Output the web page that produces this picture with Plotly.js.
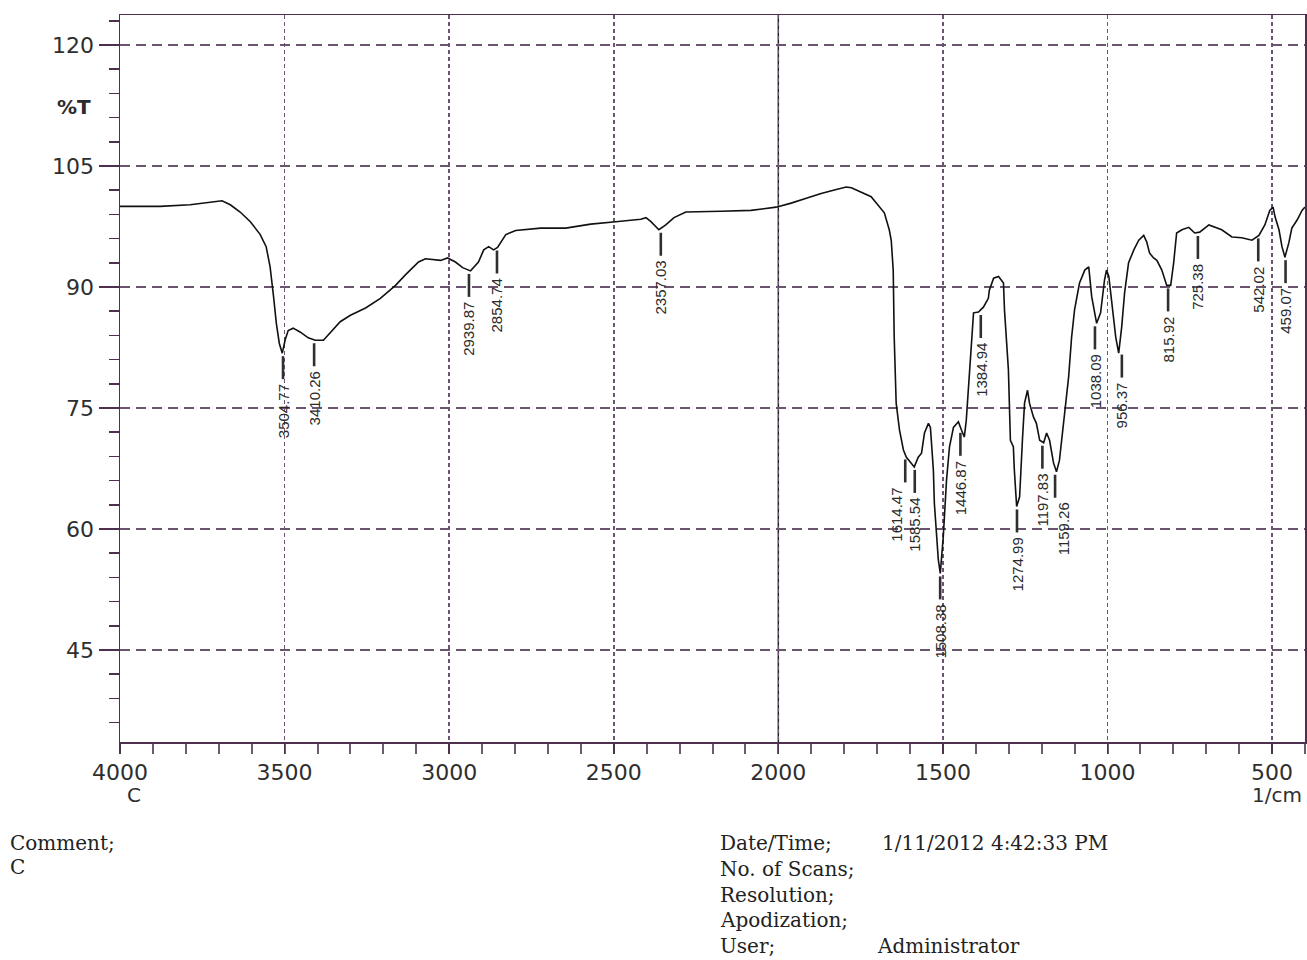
<!DOCTYPE html>
<html>
<head>
<meta charset="utf-8">
<script src="https://cdn.plot.ly/plotly-3.0.1.min.js"></script>
<style>
  html, body { margin: 0; padding: 0; background: #ffffff; }
  #chart { width: 1307px; height: 960px; }
</style>
</head>
<body>
<div id="chart"></div>
<script>
// ---- Data ----
const wavenumber = [4000,3878,3787,3726,3690,3665,3635,3604,3574,3556,3544,3534,3525,3516,3507,3498,3489,3474,3452,3428,3407,3382,3361,3331,3300,3254,3209,3163,3133,3093,3072,3026,3005,2981,2959,2935,2911,2895,2880,2865,2853,2828,2798,2722,2646,2570,2494,2418,2402,2387,2363,2342,2317,2281,2174,2083,2007,1961,1915,1870,1824,1794,1778,1718,1678,1663,1657,1651,1648,1642,1632,1620,1611,1596,1587,1575,1565,1556,1544,1538,1529,1526,1520,1514,1508,1499,1489,1480,1468,1453,1444,1435,1429,1422,1413,1407,1392,1377,1362,1359,1346,1331,1316,1313,1301,1295,1286,1283,1276,1267,1258,1252,1243,1237,1225,1216,1206,1194,1185,1176,1164,1155,1146,1136,1130,1118,1109,1100,1085,1069,1057,1048,1033,1021,1009,1003,996,987,975,966,957,948,936,920,905,890,881,872,860,850,835,820,808,799,790,774,753,735,720,692,674,653,622,592,561,540,522,507,497,491,479,470,461,449,440,424,409,400];
const transmittance = [100.0,100.0,100.2,100.5,100.7,100.2,99.3,98.1,96.5,95.0,92.5,89.0,85.5,83.0,81.8,83.5,84.6,84.9,84.4,83.7,83.4,83.4,84.3,85.7,86.5,87.4,88.6,90.2,91.5,93.1,93.5,93.3,93.6,93.1,92.4,92.0,93.1,94.6,95.0,94.6,94.9,96.5,97.0,97.3,97.3,97.8,98.1,98.4,98.6,98.1,97.1,97.7,98.6,99.3,99.4,99.5,99.9,100.4,101.0,101.6,102.1,102.4,102.3,101.2,99.2,97.1,95.8,92.1,83.8,75.6,72.3,69.8,68.9,68.2,67.7,68.9,69.4,71.9,73.1,72.6,67.3,63.2,59.0,56.2,54.5,59.0,66.1,70.2,72.6,73.3,72.3,71.4,73.5,78.1,83.8,86.8,86.9,87.5,88.6,89.6,91.1,91.3,90.5,87.2,79.7,71.0,70.2,67.3,62.8,64.0,71.4,75.6,77.2,75.6,73.9,73.1,71.0,70.7,71.9,71.0,68.2,67.1,68.5,72.3,74.8,78.9,83.8,87.2,90.5,92.1,92.5,88.8,85.5,86.8,90.9,92.1,91.3,88.0,83.8,81.8,85.0,89.3,93.0,94.6,95.8,96.4,95.6,94.2,93.6,93.3,92.1,90.2,90.2,93.0,96.7,97.1,97.4,96.7,96.8,97.7,97.4,97.1,96.2,96.1,95.8,96.4,97.7,99.5,99.9,98.7,97.1,95.0,93.7,95.5,97.3,98.3,99.5,99.9];

const peakLabels = ["3504.77","3410.26","2939.87","2854.74","2357.03","1614.47","1585.54","1508.38","1446.87","1384.94","1274.99","1197.83","1159.26","1038.09","956.37","815.92","725.38","542.02","459.07"];
const peakWavenumber = [3504.77,3410.26,2939.87,2854.74,2357.03,1614.47,1585.54,1508.38,1446.87,1384.94,1274.99,1197.83,1159.26,1038.09,956.37,815.92,725.38,542.02,459.07];
const peakTransmittance = [81.8,83.4,92.0,94.9,97.1,69.0,67.7,54.5,72.3,86.9,62.8,70.7,67.1,85.5,82.0,90.2,96.7,96.4,93.7];

const yTickVals = [45,60,75,90,105,120];
const xTickVals = [4000,3500,3000,2500,2000,1500,1000,500];
const xTickText = ["4000","3500","3000","2500","2000","1500","1000","500"];
const dividerWavenumber = 2000;

// ---- Layout / style configuration ----
const PL = 120, PR = 1305, PT = 15, PB = 742;
const Y_RANGE = [33.6, 123.72];
const pxPerUnit = (PB - PT) / (Y_RANGE[1] - Y_RANGE[0]);
const px2x = p => (p - PL) / (PR - PL);
const py2y = p => (PB - p) / (PB - PT);
const LEADER_START = 3, LEADER_END = 26, LABEL_GAP = 29;   // pixels below the peak tip
const labelNudge = {"1614.47": -9, "1159.26": 8};          // horizontal nudges in px

const frameColor = "#4e2f4e";
const gridColor = "#6a5470";
const tickFont = {family: "DejaVu Sans, Arial, sans-serif", size: 22, color: "#2e2e2e"};
const infoFont = {family: "DejaVu Serif, Liberation Serif, serif", size: 20, color: "#222"};

const trace = {
  x: wavenumber, y: transmittance, type: "scatter", mode: "lines",
  line: {color: "#111", width: 1.6}, hoverinfo: "skip", showlegend: false
};

// leader lines derived from the peak positions
const leadX = [], leadY = [];
peakWavenumber.forEach((w, i) => {
  leadX.push(w, w, null);
  leadY.push(peakTransmittance[i] - LEADER_START / pxPerUnit,
             peakTransmittance[i] - LEADER_END / pxPerUnit, null);
});
const leaders = {
  x: leadX, y: leadY, type: "scatter", mode: "lines",
  line: {color: "#2f2f2f", width: 2.6}, hoverinfo: "skip", showlegend: false
};

const annotations = [];
peakLabels.forEach((lab, i) => {
  annotations.push({
    x: peakWavenumber[i], y: peakTransmittance[i], xref: "x", yref: "y",
    text: lab, textangle: -90, showarrow: false,
    xanchor: "center", yanchor: "top", yshift: -LABEL_GAP, xshift: labelNudge[lab] || 0,
    font: {family: "Liberation Sans, Arial, sans-serif", size: 15, color: "#2a2a2a"}
  });
});

function txt(text, px, py, anchor, font) {
  return {text: text, xref: "paper", yref: "paper", x: px2x(px), y: py2y(py),
    xanchor: anchor, yanchor: "middle", showarrow: false, font: font};
}
const unitFont = {family: "DejaVu Sans, Arial, sans-serif", size: 20, color: "#2e2e2e"};
annotations.push(txt("%T", 93, 107, "right", {family: "DejaVu Sans, Arial, sans-serif", size: 20, color: "#2b2b2b", weight: "bold"}));
annotations.push(txt("C", 134, 795, "center", unitFont));
annotations.push(txt("1/cm", 1304, 795, "right", unitFont));
annotations.push(txt("Comment;", 8, 843, "left", infoFont));
annotations.push(txt("C", 8, 867, "left", infoFont));
annotations.push(txt("Date/Time;", 718, 843, "left", infoFont));
annotations.push(txt("1/11/2012 4:42:33 PM", 880, 843, "left", infoFont));
annotations.push(txt("No. of Scans;", 718, 869, "left", infoFont));
annotations.push(txt("Resolution;", 718, 895, "left", infoFont));
annotations.push(txt("Apodization;", 718, 920, "left", infoFont));
annotations.push(txt("User;", 718, 946, "left", infoFont));
annotations.push(txt("Administrator", 875, 946, "left", infoFont));

const layout = {
  width: 1307, height: 960,
  margin: {l: PL, r: 1307 - PR, t: PT, b: 960 - PB, pad: 0},
  paper_bgcolor: "#ffffff", plot_bgcolor: "#ffffff",
  showlegend: false,
  xaxis: {
    range: [4000, 400], tickvals: xTickVals, ticktext: xTickText,
    ticks: "outside", ticklen: 10, tickwidth: 1.5, tickcolor: frameColor,
    showgrid: true, gridcolor: gridColor, gridwidth: 1.5, griddash: "4px,3px",
    showline: true, linecolor: frameColor, linewidth: 1.5, mirror: true,
    zeroline: false, tickfont: tickFont,
    minor: {dtick: 100, tick0: 0, ticks: "outside", ticklen: 10, tickwidth: 2, tickcolor: "#6b5a70", showgrid: false}
  },
  yaxis: {
    range: Y_RANGE, tickvals: yTickVals,
    ticks: "outside", ticklen: 20, tickwidth: 1.5, tickcolor: frameColor,
    showgrid: true, gridcolor: gridColor, gridwidth: 1.4, griddash: "10px,6px",
    showline: true, linecolor: frameColor, linewidth: 1.5, mirror: true,
    zeroline: false, tickfont: tickFont,
    minor: {dtick: 3, tick0: 0, ticks: "outside", ticklen: 10, tickwidth: 1.5, tickcolor: frameColor, showgrid: false}
  },
  shapes: [{
    type: "line", xref: "x", yref: "paper", x0: dividerWavenumber, x1: dividerWavenumber, y0: 0, y1: 1,
    line: {color: "#222", width: 1.5}, layer: "below"
  }],
  annotations: annotations
};

Plotly.newPlot("chart", [trace, leaders], layout, {displayModeBar: false, staticPlot: true});
</script>
</body>
</html>
